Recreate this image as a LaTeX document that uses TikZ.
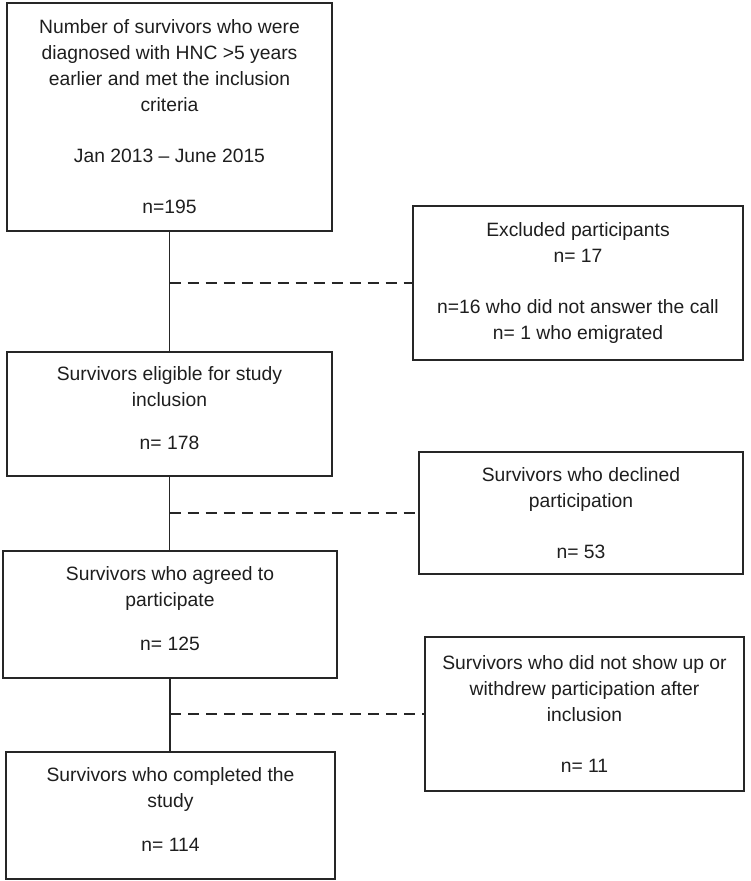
\documentclass[tikz,border=0pt]{standalone}
\usepackage{fontspec}
\setmainfont{Liberation Sans}
\usepackage{tikz}
\usetikzlibrary{positioning,calc}
\definecolor{boxline}{RGB}{38,38,38}
\definecolor{textgray}{RGB}{30,30,30}
\tikzset{
    flowbox/.style={rectangle, draw=boxline, line width=2.2pt, text=textgray,
                    align=center, inner sep=0pt,
                    font=\fontsize{19.3}{25.7}\selectfont},
    link/.style={draw=boxline, line width=1.1pt},
    droplink/.style={link, dash pattern=on 11pt off 7pt},
}

\begin{document}
\begin{tikzpicture}[x=1pt, y=-1pt]
        \useasboundingbox (0,0) rectangle (750,881);

        % Main flow (left column)
        \node [flowbox, minimum width=325pt, minimum height=228pt] (survey)    at (169.5,117)
            {Number of survivors who were\\diagnosed with HNC >5 years\\earlier and met the inclusion\\criteria\\[25.7pt]Jan 2013 -- June 2015\\[25.7pt]n=195};
        \node [flowbox, minimum width=325pt, minimum height=124pt] (eligible)  at (169.5,414)
            {Survivors eligible for study\\inclusion\\[18pt]n= 178\\[-14pt]\mbox{}};
        \node [flowbox, minimum width=334pt, minimum height=127pt] (agreed)    at (170,614.5)
            {Survivors who agreed to\\participate\\[18pt]n= 125\\[-14pt]\mbox{}};
        \node [flowbox, minimum width=329pt, minimum height=127pt] (completed) at (170.5,815.5)
            {Survivors who completed the\\study\\[18pt]n= 114\\[-14pt]\mbox{}};

        % Drop-outs (right column)
        \node [flowbox, minimum width=330pt, minimum height=154pt] (excluded)  at (578,283)
            {Excluded participants\\n= 17\\[25.7pt]n=16 who did not answer the call\\n= 1 who emigrated};
        \node [flowbox, minimum width=324pt, minimum height=122pt] (declined)  at (581,513)
            {Survivors who declined\\participation\\[25.7pt]n= 53};
        \node [flowbox, minimum width=319pt, minimum height=154pt] (withdrawn) at (584.5,714)
            {Survivors who did not show up or\\withdrew participation after\\inclusion\\[25.7pt]n= 11};

        % Connectors
        \draw[link] (survey.south)   -- (survey.south |- eligible.north);
        \draw[link] (eligible.south) -- (eligible.south |- agreed.north);
        \draw[link] (agreed.south)   -- (agreed.south |- completed.north);

        \draw[droplink] (survey.south |- excluded.west)   -- (excluded.west);
        \draw[droplink] (eligible.south |- declined.west) -- (declined.west);
        \draw[droplink] (agreed.south |- withdrawn.west)  -- (withdrawn.west);
    \end{tikzpicture}
\end{document}
